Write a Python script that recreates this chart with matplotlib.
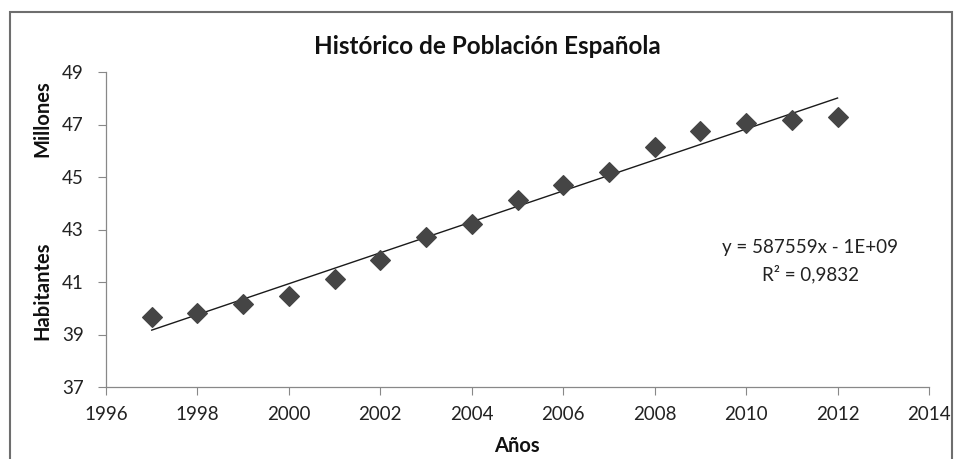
import matplotlib
matplotlib.use("Agg")
import matplotlib.pyplot as plt
from matplotlib.patches import Rectangle
import numpy as np

years = [1997, 1998, 1999, 2000, 2001, 2002, 2003, 2004, 2005, 2006, 2007, 2008, 2009, 2010, 2011, 2012]
population = [39.67, 39.83, 40.17, 40.47, 41.10, 41.82, 42.72, 43.20, 44.11, 44.71, 45.20, 46.16, 46.75, 47.05, 47.17, 47.27]
xticks = [1996, 1998, 2000, 2002, 2004, 2006, 2008, 2010, 2012, 2014]
yticks = [37, 39, 41, 43, 45, 47, 49]
title = "Histórico de Población Española"
eq_text = "y = 587559x - 1E+09"
r2_text = "R² = 0,9832"

plt.rcParams['font.family'] = ['Lato', 'DejaVu Sans']

W, H = 957, 459
fig = plt.figure(figsize=(W / 100, H / 100), dpi=100)
fig.patch.set_facecolor('white')

fig.patches.append(Rectangle((10 / W, -0.02), 942 / W, 1 - 12 / H + 0.02,
                             transform=fig.transFigure, fill=False,
                             edgecolor='#6e6e6e', linewidth=1.5))

ax = fig.add_axes([106 / W, 1 - 387 / H, (929 - 106) / W, (387 - 72) / H])
ax.set_facecolor('none')

ax.scatter(years, population, marker='D', s=100, color='#454545', zorder=3)

coef = np.polyfit(years, population, 1)
xs = np.array([years[0], years[-1]])
ax.plot(xs, np.polyval(coef, xs), color='#1a1a1a', linewidth=1.0, zorder=2)

ax.set_xlim(1996, 2014)
ax.set_ylim(37, 49)
ax.set_xticks(xticks)
ax.set_yticks(yticks)
ax.tick_params(axis='both', labelsize=13.5, colors='#222222', length=6, width=0.8, color='#888888')
ax.tick_params(axis='x', pad=8)
ax.tick_params(axis='y', pad=10)
for s in ['top', 'right']:
    ax.spines[s].set_visible(False)
for s in ['left', 'bottom']:
    ax.spines[s].set_color('#888888')
    ax.spines[s].set_linewidth(0.9)

fig.text(487 / W, 1 - 47 / H, title, ha='center', va='center', fontsize=17.5, fontweight='bold', color='#111111')
fig.text(42 / W, 1 - 119 / H, "Millones", rotation=90, ha='center', va='center', fontsize=14.5, fontweight='bold', color='#111111')
fig.text(42 / W, 1 - 291 / H, "Habitantes", rotation=90, ha='center', va='center', fontsize=14.5, fontweight='bold', color='#111111')
fig.text(517 / W, 1 - 446 / H, "Años", ha='center', va='center', fontsize=14.5, fontweight='bold', color='#111111')
fig.text(810 / W, 1 - 248 / H, eq_text, ha='center', va='center', fontsize=13.5, color='#222222')
fig.text(810 / W, 1 - 274 / H, r2_text, ha='center', va='center', fontsize=13.5, color='#222222')

fig.savefig("out.png", dpi=100, facecolor='white')
